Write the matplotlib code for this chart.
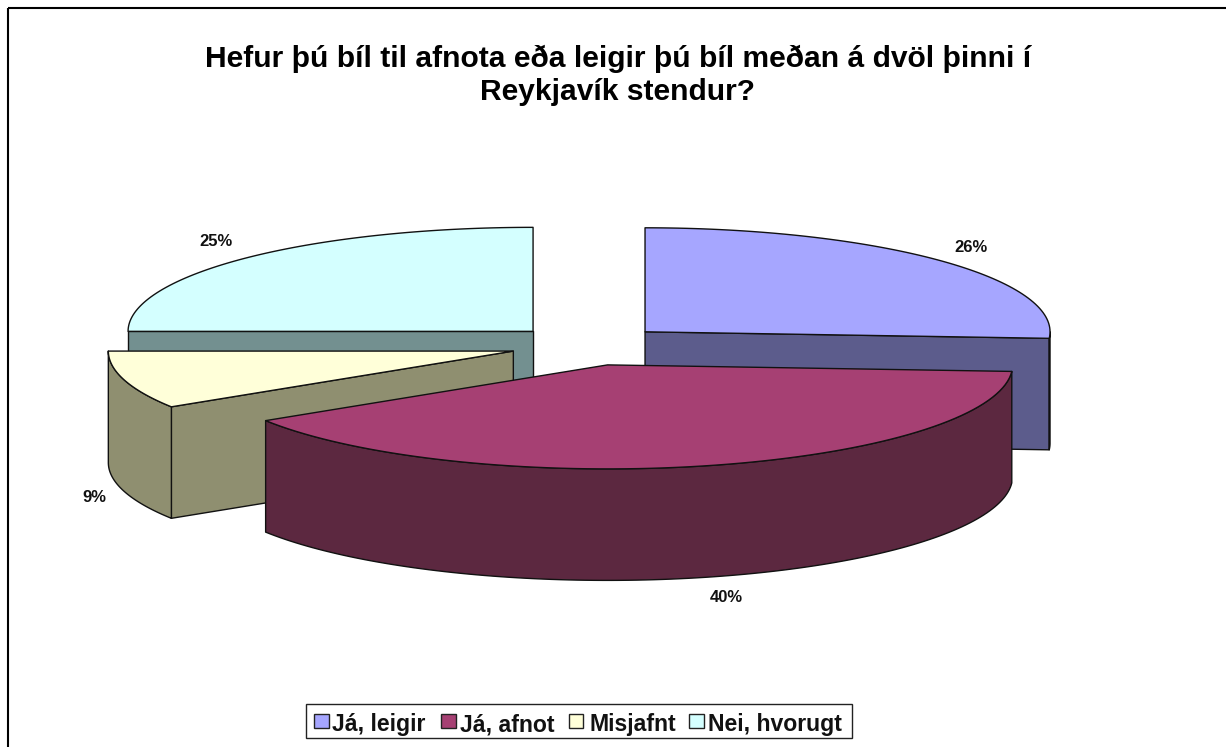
import matplotlib
matplotlib.use('Agg')
import matplotlib.pyplot as plt
from matplotlib.patches import Polygon, Rectangle
import numpy as np

# chart data
labels = ['Já, leigir', 'Já, afnot', 'Misjafnt', 'Nei, hvorugt']
values = [26, 40, 9, 25]
pct_labels = ['26%', '40%', '9%', '25%']
title = 'Hefur þú bíl til afnota eða leigir þú bíl meðan á dvöl þinni í\nReykjavík stendur?'

top_colors = ['#A6A6FF', '#A64073', '#FFFFD9', '#D4FFFF']
side_colors = ['#5C5C8C', '#5C2840', '#8F8F70', '#739090']

# layout, in picture pixels
W, H = 1226, 747
cx, cy = 588.2, 345.5
rx, ry = 405, 104
depth = 111.5
explode = 0.1925
# draw back to front
order = [3, 0, 2, 1]
label_pos = [(971, 247), (726, 597), (94, 497), (216, 241)]

plt.rcParams['font.family'] = ['Liberation Sans', 'DejaVu Sans']

fig = plt.figure(figsize=(W / 100, H / 100), dpi=100)
ax = fig.add_axes([0, 0, 1, 1])
ax.set_xlim(0, W)
ax.set_ylim(H, 0)
ax.axis('off')

# chart border, runs off the right and bottom of the picture
ax.add_patch(Rectangle((8, 8), 1300, 800, fill=False, ec='black', lw=1.5))


def arc(x0, y0, a, b, n=80):
    t = np.radians(np.linspace(a, b, n))
    return np.column_stack([x0 + rx * np.sin(t), y0 - ry * np.cos(t)])


total = sum(values)
edges = np.cumsum([0] + values) / total * 360
for i in order:
    a, b = edges[i], edges[i + 1]
    mid = np.radians((a + b) / 2)
    x0 = cx + explode * rx * np.sin(mid)
    y0 = cy - explode * ry * np.cos(mid)
    drop = np.array([0, depth])
    centre = np.array([x0, y0])
    rim = arc(x0, y0, a, b)
    kw = dict(ec='#111111', lw=1.0, joinstyle='round')
    # cut faces, only the ones turned to the viewer
    if np.sin(np.radians(a)) < -1e-6:
        ax.add_patch(Polygon([centre, rim[0], rim[0] + drop, centre + drop], fc=side_colors[i], **kw))
    if np.sin(np.radians(b)) > 1e-6:
        ax.add_patch(Polygon([centre, rim[-1], rim[-1] + drop, centre + drop], fc=side_colors[i], **kw))
    # outer wall, front half only
    if b > 90 and a < 270:
        front = arc(x0, y0, max(a, 90), min(b, 270), n=120)
        ax.add_patch(Polygon(np.vstack([front, front[::-1] + drop]), fc=side_colors[i], **kw))
    # top
    ax.add_patch(Polygon(np.vstack([centre, rim]), fc=top_colors[i], **kw))

for s, (x, y) in zip(pct_labels, label_pos):
    ax.text(x, y, s, ha='center', va='center', fontsize=12, fontweight='bold', color='#111111')

ax.text(618, 75.5, title, ha='center', va='center', fontsize=21.6, fontweight='bold', linespacing=1.2)

# legend
ax.add_patch(Rectangle((306, 703.5), 546, 34, fc='white', ec='#222222', lw=1))
swatch_x = [314, 441, 568.5, 689]
text_x = [332, 460.5, 589.5, 708.5]
for c, s, x, tx in zip(top_colors, labels, swatch_x, text_x):
    ax.add_patch(Rectangle((x, 714), 14.5, 14, fc=c, ec='#222222', lw=1.0))
    ax.text(tx, 731.5, s, ha='left', va='baseline', fontsize=16.6, fontweight='bold', color='#111111')

fig.savefig('out.png', dpi=100)
